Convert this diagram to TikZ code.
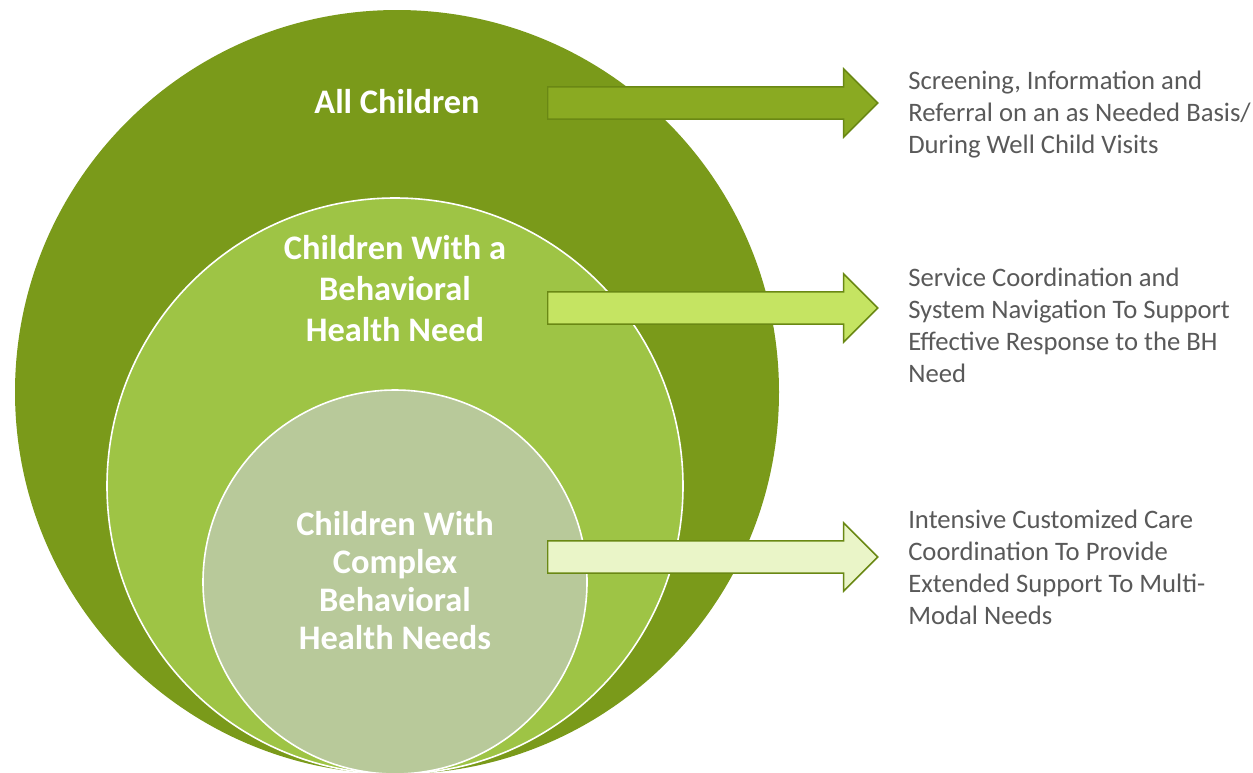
\documentclass[tikz,border=0pt]{standalone}
\usepackage{fontspec}
\setmainfont{Carlito}
\usepackage{xcolor}
\definecolor{outergreen}{RGB}{122,154,26}
\definecolor{midgreen}{RGB}{158,196,69}
\definecolor{innergreen}{RGB}{184,201,154}
\definecolor{arrowone}{RGB}{138,170,34}
\definecolor{arrowtwo}{RGB}{197,228,98}
\definecolor{arrowthree}{RGB}{234,245,200}
\definecolor{arrowline}{RGB}{106,136,20}
\definecolor{sidegray}{RGB}{89,89,89}
\usepackage{tikz}
\usetikzlibrary{shapes.arrows,positioning}

\begin{document}
\begin{tikzpicture}[x=0.75pt,y=-0.75pt]
	\tikzstyle{ring}=[circle,draw=white,line width=1.2pt,inner sep=0pt];
	\tikzstyle{ringtext}=[text=white,font=\bfseries\fontsize{25.8}{30.8}\selectfont,align=center,inner sep=0pt];
	\tikzstyle{blockarrow}=[single arrow,draw=arrowline,line width=1.1pt,single arrow head extend=13.5pt,single arrow tip angle=90,minimum height=247.5pt,inner xsep=0pt,inner ysep=11.6pt,anchor=tail];
	\tikzstyle{sidetext}=[text=sidegray,font=\fontsize{20}{24}\selectfont,align=left,anchor=north west,inner sep=0pt];
	\useasboundingbox (0,0) rectangle (1253,772);
	% circles
	\node[ring,draw=none,fill=outergreen,minimum size=573pt] (all) at (397,392) {};
	\node[ring,fill=midgreen,minimum size=432pt] (bh) at (395,486) {};
	\node[ring,fill=innergreen,minimum size=288pt] (cx) at (395,582) {};
	\node[ringtext,anchor=base] (t1) at (397,113) {All Children};
	\node[ringtext,anchor=north] (t2) at (395,235) {Children With a\\Behavioral\\Health Need};
	\node[ringtext,anchor=north,font=\bfseries\fontsize{25.8}{28.5}\selectfont] (t3) at (395,511) {Children With\\Complex\\Behavioral\\Health Needs};
	% arrows
	\node[blockarrow,fill=arrowone] (a1) at (547,103) {};
	\node[blockarrow,fill=arrowtwo] (a2) at (547,308) {};
	\node[blockarrow,fill=arrowthree] (a3) at (547,557) {};
	\node[sidetext] (s1) at (908,71) {Screening, Information and\\Referral on an as Needed Basis/\\During Well Child Visits};
	\node[sidetext] (s2) at (908,268) {Service Coordination and\\System Navigation To Support\\Effective Response to the BH\\Need};
	\node[sidetext] (s3) at (908,510) {Intensive Customized Care\\Coordination To Provide\\Extended Support To Multi-\\Modal Needs};
\end{tikzpicture}
\end{document}
